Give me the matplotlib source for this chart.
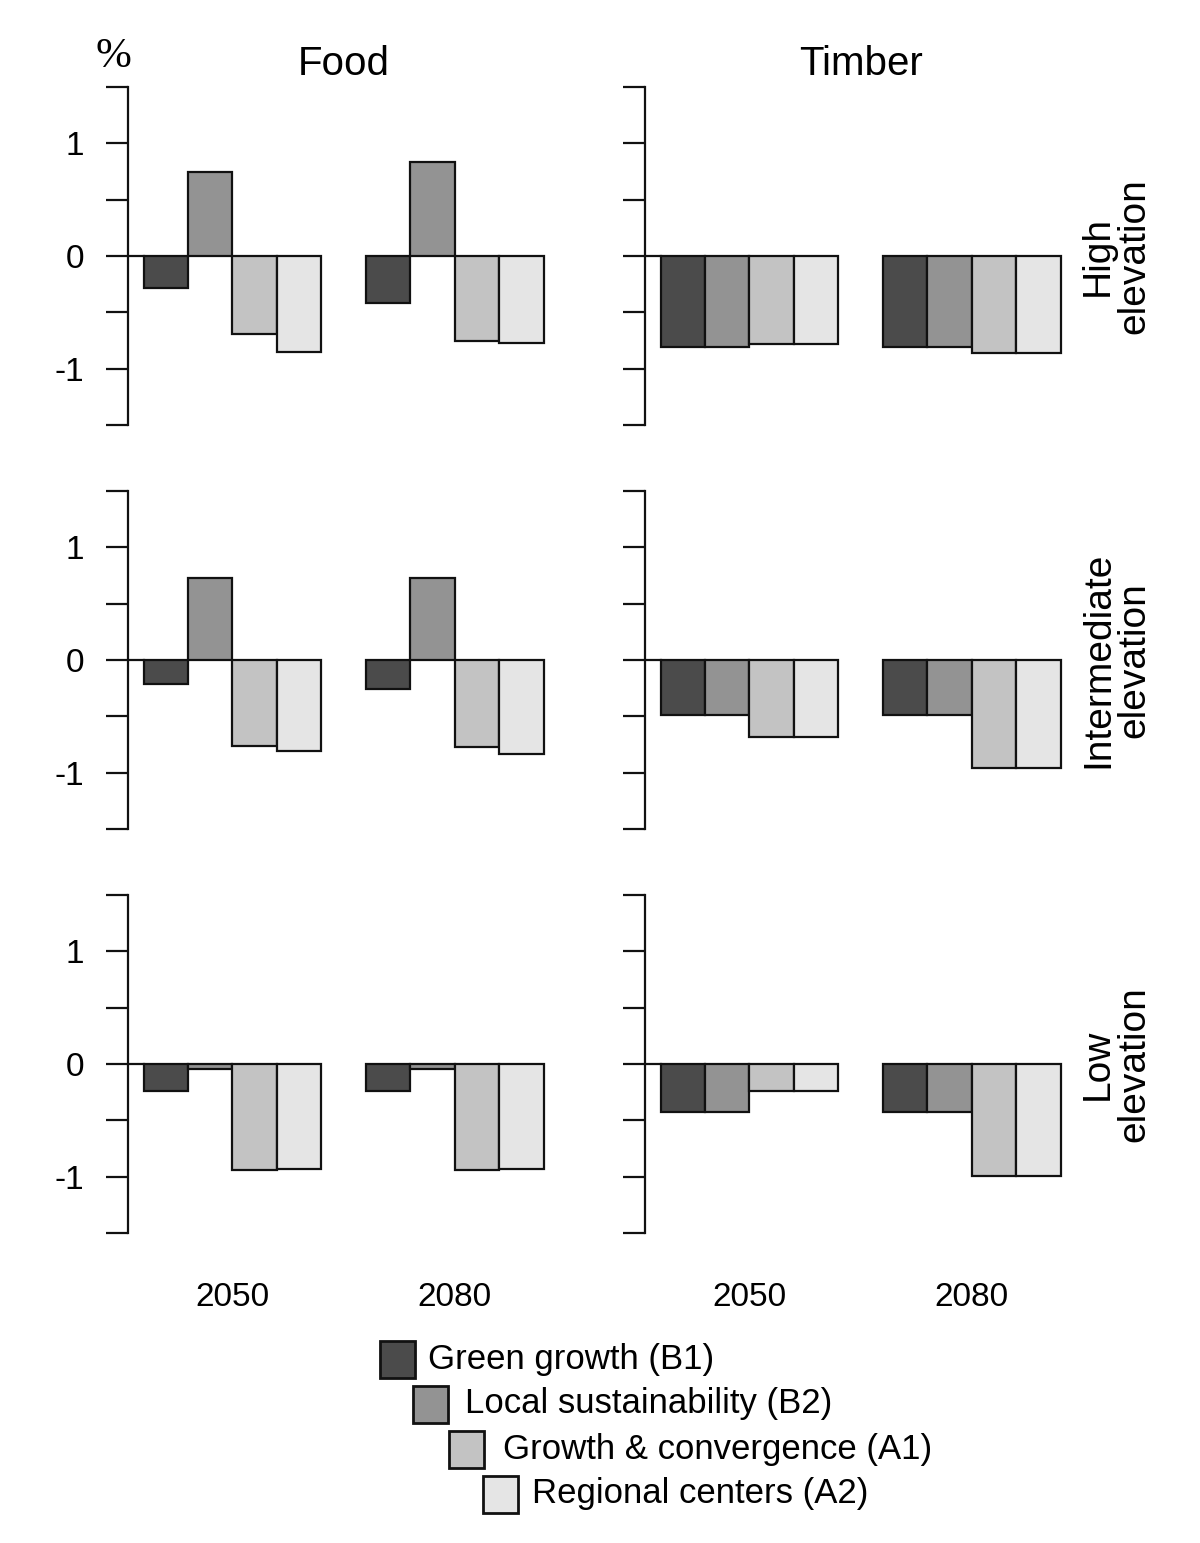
import matplotlib
matplotlib.use("Agg")
import matplotlib.pyplot as plt
from matplotlib.patches import Rectangle

plt.rcParams['font.family'] = ['Liberation Sans', 'DejaVu Sans']

# ---------------- data ----------------
scenarios = ["Green growth (B1)", "Local sustainability (B2)",
             "Growth & convergence (A1)", "Regional centers (A2)"]
colors = ["#4b4b4b", "#939393", "#c3c3c3", "#e5e5e5"]
years = ["2050", "2080"]
services = ["Food", "Timber"]
elevations = ["High\nelevation", "Intermediate\nelevation", "Low\nelevation"]

food_high_2050 = [-0.28, 0.75, -0.69, -0.85]
food_high_2080 = [-0.42, 0.83, -0.75, -0.77]
timber_high_2050 = [-0.81, -0.81, -0.78, -0.78]
timber_high_2080 = [-0.81, -0.81, -0.86, -0.86]

food_mid_2050 = [-0.21, 0.73, -0.76, -0.81]
food_mid_2080 = [-0.26, 0.73, -0.77, -0.83]
timber_mid_2050 = [-0.49, -0.49, -0.68, -0.68]
timber_mid_2080 = [-0.49, -0.49, -0.96, -0.96]

food_low_2050 = [-0.24, -0.04, -0.94, -0.93]
food_low_2080 = [-0.24, -0.04, -0.94, -0.93]
timber_low_2050 = [-0.43, -0.43, -0.24, -0.24]
timber_low_2080 = [-0.43, -0.43, -0.99, -0.99]

values = [
    [[food_high_2050, food_high_2080], [timber_high_2050, timber_high_2080]],
    [[food_mid_2050, food_mid_2080], [timber_mid_2050, timber_mid_2080]],
    [[food_low_2050, food_low_2080], [timber_low_2050, timber_low_2080]],
]

yticks = [-1.5, -1, -0.5, 0, 0.5, 1, 1.5]
ytick_labels = ["", "-1", "", "0", "", "1", ""]

# ---------------- layout ----------------
W, H = 1200, 1543
fig = plt.figure(figsize=(W / 100, H / 100), dpi=100)


def fx(px):
    return px / W


def fy(py):
    return 1 - py / H


row_tops = [87, 491, 895]
ax_h = 338
col_left = [128, 645]
ax_w = 432
unit = 44.44
offset = 0.35
group_gap = 5
ec = "#111111"
lw = 1.6

for r in range(3):
    for c in range(2):
        ax = fig.add_axes([fx(col_left[c]), fy(row_tops[r] + ax_h), ax_w / W, ax_h / H])
        ax.set_xlim(0, ax_w / unit)
        ax.set_ylim(-1.5, 1.5)
        for g in range(2):
            xs = [offset + g * group_gap + i for i in range(4)]
            ax.bar(xs, values[r][c][g], width=1, align='edge', color=colors,
                   edgecolor=ec, linewidth=lw, zorder=3)
        ax.axhline(0, xmin=0, xmax=offset / (ax_w / unit), color=ec, lw=lw, zorder=2)
        for s in ["top", "right", "bottom"]:
            ax.spines[s].set_visible(False)
        ax.spines["left"].set_linewidth(lw)
        ax.spines["left"].set_color(ec)
        ax.set_xticks([])
        ax.set_yticks(yticks)
        if c == 0:
            ax.set_yticklabels(ytick_labels, fontsize=24)
        else:
            ax.set_yticklabels([])
        ax.tick_params(axis='y', length=15.5, width=lw, color=ec, pad=16, labelcolor="black")
        if c == 1:
            fig.text(fx(1116), fy(row_tops[r] + ax_h / 2), elevations[r], rotation=90,
                     ha='center', va='center', fontsize=28, linespacing=1.0)
        if r == 0:
            fig.text(fx(col_left[c] + (offset + 4.5) * unit), fy(64), services[c],
                     ha='center', va='center', fontsize=29)
        if r == 2:
            for g in range(2):
                fig.text(fx(col_left[c] + (offset + g * group_gap + 2) * unit), fy(1297),
                         years[g], ha='center', va='center', fontsize=24)

fig.text(fx(113), fy(57), "%", ha='center', va='center', fontsize=31,
         family=['Liberation Serif', 'DejaVu Serif'])

# ---------------- legend ----------------
box_x = [380, 413, 449, 483]
box_y = [1359, 1404, 1449, 1494]
text_x = [428, 465, 503, 532]
bw, bh = 35, 37
for i in range(4):
    fig.patches.append(Rectangle((fx(box_x[i]), fy(box_y[i] + bh / 2)), bw / W, bh / H,
                                 transform=fig.transFigure, facecolor=colors[i],
                                 edgecolor=ec, linewidth=2))
    fig.text(fx(text_x[i]), fy(box_y[i]), scenarios[i], ha='left', va='center', fontsize=25)

fig.savefig("out.png", dpi=100, facecolor="white")
